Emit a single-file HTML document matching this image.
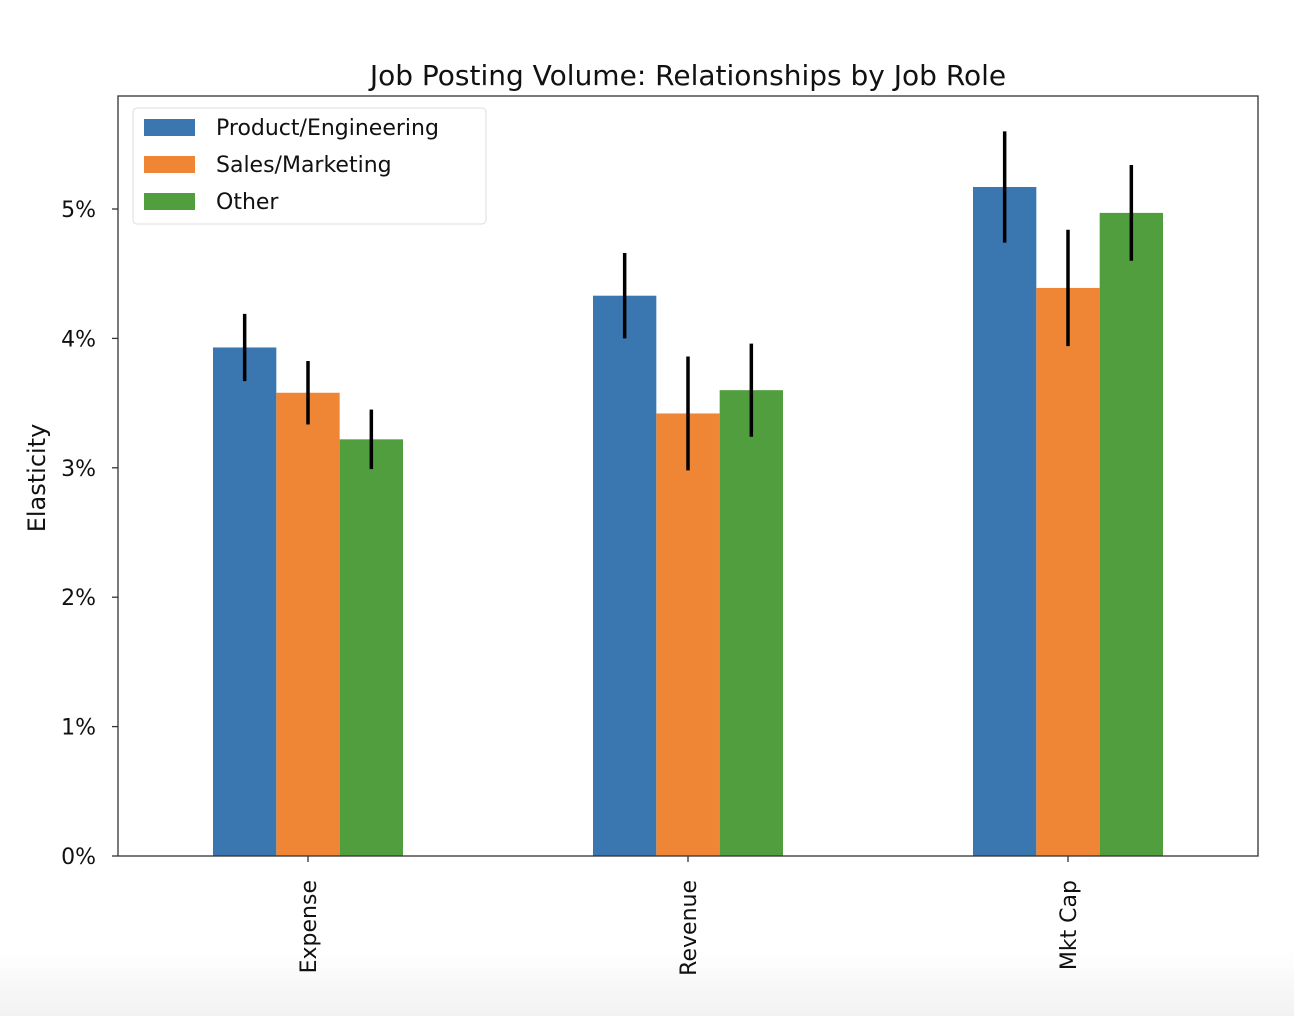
<!DOCTYPE html>
<html><head><meta charset="utf-8"><style>
html,body{margin:0;padding:0;background:#fff;}
body{width:1294px;height:1016px;overflow:hidden;position:relative;}
#fade{position:absolute;left:0;top:950px;width:1294px;height:66px;background:linear-gradient(#fff,#f2f2f2);}
svg{position:absolute;left:0;top:0;}
text{font-family:"DejaVu Sans","Liberation Sans",sans-serif;fill:#111;}
</style></head><body>
<div id="fade"></div>
<svg id="chart" width="1294" height="1016"></svg>
<script>
const categories = ["Expense","Revenue","Mkt Cap"];
const seriesNames = ["Product/Engineering","Sales/Marketing","Other"];
const seriesColors = ["#3a76af","#ef8636","#519e3e"];
const productVals = [3.93, 4.33, 5.17];
const salesVals = [3.58, 3.42, 4.39];
const otherVals = [3.22, 3.60, 4.97];
const productErr = [0.26, 0.33, 0.43];
const salesErr = [0.245, 0.44, 0.45];
const otherErr = [0.23, 0.36, 0.37];
const yTicks = [0,1,2,3,4,5];
const yTickLabels = ["0%","1%","2%","3%","4%","5%"];

const NS = "http://www.w3.org/2000/svg";
const svg = document.getElementById("chart");
const L=118, R=1258, T=96, B=856;
const yMax = (B-T)/129.4; // percent at top
const y = v => B - v/yMax*(B-T);
const band = (R-L)/categories.length;
const x = i => L + band*(i+0.5);
const bw = band/6;
function el(tag, attrs){const e=document.createElementNS(NS,tag);for(const k in attrs)e.setAttribute(k,attrs[k]);svg.appendChild(e);return e;}

const t = el("text",{x:688,y:85,"text-anchor":"middle","font-size":"28"});


t.textContent="Job Posting Volume: Relationships by Job Role";

const yl = el("text",{x:0,y:0,"text-anchor":"middle","font-size":"24",transform:"translate(45,478) rotate(-90)"});


yl.textContent="Elasticity";

const vals=[productVals,salesVals,otherVals], errs=[productErr,salesErr,otherErr];
categories.forEach((c,i)=>{
  vals.forEach((arr,s)=>{
    const x0 = x(i) + (s-1.5)*bw;
    const r = el("rect",{x:x0,y:y(arr[i]),width:bw,height:B-y(arr[i]),fill:seriesColors[s]});
    
    
  });
});
categories.forEach((c,i)=>{
  vals.forEach((arr,s)=>{
    const cx = x(i) + (s-1)*bw;
    const e = el("line",{x1:cx,x2:cx,y1:y(arr[i]+errs[s][i]),y2:y(arr[i]-errs[s][i]),stroke:"#000","stroke-width":3.5});
    
    
  });
});

const frame = el("rect",{x:L,y:T,width:R-L,height:B-T,fill:"none",stroke:"#333","stroke-width":1.3});



yTicks.forEach((v,k)=>{
  const tk = el("line",{x1:L-6,x2:L,y1:y(v),y2:y(v),stroke:"#333","stroke-width":1.3});
  
  
  const lb = el("text",{x:L-22,y:y(v)+8,"text-anchor":"end","font-size":"22"});
  
  
  lb.textContent=yTickLabels[k];
});
categories.forEach((c,i)=>{
  const tk = el("line",{x1:x(i),x2:x(i),y1:B,y2:B+6,stroke:"#333","stroke-width":1.3});
  
  
  const lb = el("text",{x:0,y:0,"text-anchor":"end","font-size":"22",transform:`translate(${x(i)+8},${B+24}) rotate(-90)`});
  
  
  lb.textContent=c;
});

const lg = el("rect",{x:133,y:108,width:353,height:116,rx:4,fill:"#fff",stroke:"#ddd","stroke-width":1});


seriesNames.forEach((n,s)=>{
  const cy = 127 + s*37;
  const p = el("rect",{x:144,y:cy-8,width:51,height:17,fill:seriesColors[s]});
  
  
  const tx = el("text",{x:216,y:cy+8,"font-size":"22"});
  
  
  tx.textContent=n;
});
</script>
</body></html>
